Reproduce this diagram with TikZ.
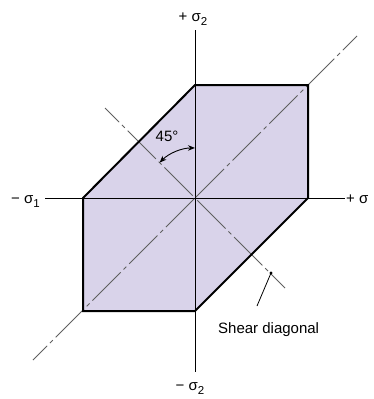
\documentclass[tikz,border=0pt]{standalone}
\usepackage{fontspec}
\setmainfont{Liberation Sans}
\usetikzlibrary{arrows.meta}
\definecolor{lav}{RGB}{217,211,234}
\definecolor{dgray}{RGB}{95,95,95}
\newcommand{\mysub}[1]{\raisebox{-4pt}{\fontsize{11.5}{13}\selectfont #1}}
\begin{document}
\begin{tikzpicture}[x=1pt,y=-1pt,
  lbl/.style={font=\fontsize{15}{17}\selectfont, inner sep=0pt},
  thickedge/.style={line width=2pt, line join=miter},
  axisline/.style={line width=0.9pt},
  diag/.style={draw=dgray, line width=0.9pt, dash pattern=on 40pt off 4pt on 4pt off 4pt, dash phase=20pt},
  arc arrow/.style={line width=0.9pt, {Stealth[length=7pt,width=5.5pt]}-{Stealth[length=7pt,width=5.5pt]}}
]
\useasboundingbox (0,0) rectangle (374,399);
% hexagon corners
\coordinate (O) at (195,198);
\coordinate (A) at (83,198);
\coordinate (B) at (195,85);
\coordinate (C) at (308,85);
\coordinate (D) at (308,198);
\coordinate (E) at (195,311);
\coordinate (F) at (83,311);
% axis ends
\coordinate (xl) at (45,198);
\coordinate (xr) at (345,198);
\coordinate (yt) at (195,30);
\coordinate (yb) at (195,372);
% diagonal ends
\coordinate (d1) at (357,36);
\coordinate (d2) at (33,360);
\coordinate (p1) at (105,108);
\coordinate (p2) at (285,288);
% shear leader
\coordinate (dot) at (271,273);
\coordinate (lend) at (257,306);
% arc start
\coordinate (a1) at (159.6,162.6);

\fill[lav] (A)--(B)--(C)--(D)--(E)--(F)--cycle;
\draw[axisline] (xl)--(xr);
\draw[axisline] (yt)--(yb);
\draw[diag] (d1)--(O);
\draw[diag] (d2)--(O);
\draw[diag] (p1)--(O);
\draw[diag] (p2)--(O);
\draw[thickedge] (A)--(B)--(C)--(D)--(E)--(F)--cycle;
\draw[arc arrow] (a1) arc[start angle=-135, end angle=-90, radius=50];
\fill (dot) circle (1.7pt);
\draw[line width=0.8pt] (dot)--(lend);

\node[lbl, anchor=base] (top) at (193,21) {+ σ\mysub{2}};
\node[lbl, anchor=base east] (left) at (40,203) {− σ\mysub{1}};
\node[lbl, anchor=base west] (right) at (346,203) {+ σ};
\node[lbl, anchor=base] (bot) at (190,390) {− σ\mysub{2}};
\node[lbl, anchor=base] (ang) at (167,141) {45°};
\node[lbl, anchor=base west] (shear) at (218,333) {Shear diagonal};
\end{tikzpicture}
\end{document}
